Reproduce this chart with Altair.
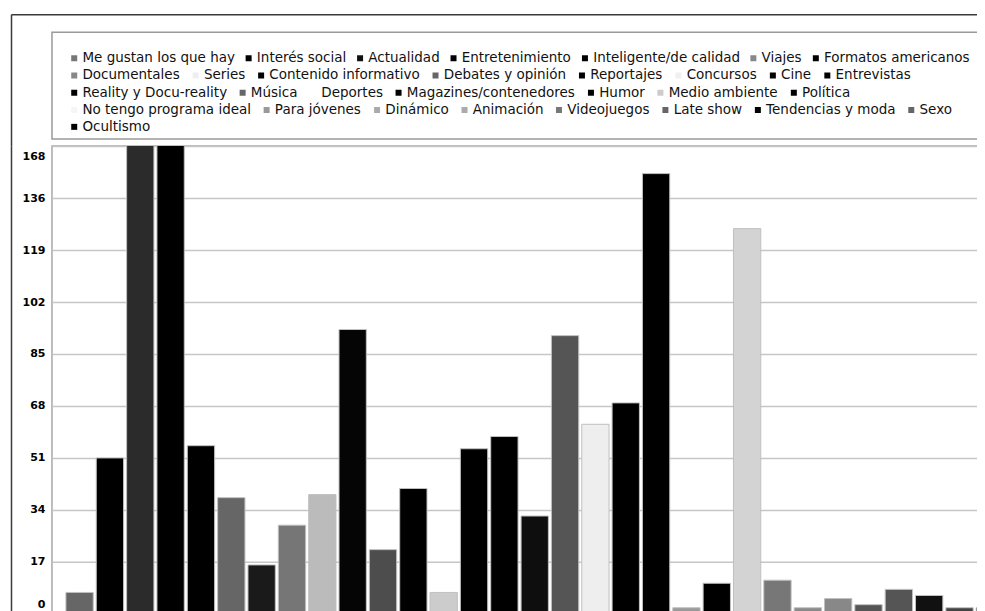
import altair as alt
import pandas as pd

categories = [
    "Me gustan los que hay", "Interés social", "Actualidad", "Entretenimiento",
    "Inteligente/de calidad", "Viajes", "Formatos americanos",
    "Documentales", "Series", "Contenido informativo", "Debates y opinión",
    "Reportajes", "Concursos", "Cine", "Entrevistas",
    "Reality y Docu-reality", "Música", "Deportes", "Magazines/contenedores",
    "Humor", "Medio ambiente", "Política",
    "No tengo programa ideal", "Para jóvenes", "Dinámico", "Animación",
    "Videojuegos", "Late show", "Tendencias y moda", "Sexo",
    "Ocultismo",
]
values = [7, 51, 168, 168, 55, 38, 16, 29, 39, 93, 21, 41, 7, 54, 58,
          32, 91, 62, 69, 144, 2, 10, 126, 11, 2, 5, 3, 8, 6, 2, 2]
bar_colors = [
    "#666666", "#000000", "#2b2b2b", "#000000", "#000000", "#666666", "#1a1a1a",
    "#767676", "#bbbbbb", "#050505", "#4d4d4d", "#000000", "#cccccc", "#000000", "#000000",
    "#0e0e0e", "#555555", "#eeeeee", "#000000", "#000000", "#999999", "#000000",
    "#d3d3d3", "#777777", "#8a8a8a", "#888888", "#555555", "#555555", "#111111", "#444444",
    "#000000",
]
legend_colors = [
    "#777777", "#000000", "#111111", "#000000", "#000000", "#888888", "#000000",
    "#888888", "#eeeeee", "#000000", "#666666", "#000000", "#f0f0f0", "#000000", "#000000",
    "#000000", "#666666", "#ffffff", "#000000", "#000000", "#cccccc", "#000000",
    "#f5f5f5", "#999999", "#aaaaaa", "#aaaaaa", "#777777", "#666666", "#000000", "#666666",
    "#000000",
]
legend_rows = [7, 8, 7, 8, 1]
y_ticks = [0, 17, 34, 51, 68, 85, 102, 119, 136, 153]
y_top_label = "168"

FONT = "DejaVu Sans"
W = 966          # plot width (right part is cut by the picture edge)
LEG_H = 107      # legend box height
GAP = 7          # gap between legend box and plot
PLOT_H = 468
FRAME_L = 41     # distance from outer frame to the plot's left edge
FRAME_T = 18     # distance from outer frame to the legend box top
FRAME_COLOR = "#3a3a3a"

frame_axis = dict(labels=False, ticks=False, grid=False, domain=True, title=None,
                  domainColor=FRAME_COLOR, domainWidth=1.5)

# ---- legend panel (boxed) ----
layers = []
start = 0
for i, n in enumerate(legend_rows):
    cats = categories[start:start + n]
    cols = legend_colors[start:start + n]
    df = pd.DataFrame({"cat": cats})
    enc = dict(
        color=alt.Color(
            "cat:N",
            sort=cats,
            scale=alt.Scale(domain=cats, range=cols),
            legend=alt.Legend(
                orient="none", legendX=15.5, legendY=19 + 17.25 * i,
                direction="horizontal", title=None,
                symbolType="square", symbolSize=36, symbolOpacity=1,
                symbolStrokeWidth=0,
                labelFont=FONT, labelFontSize=13.5, labelColor="#111111",
                labelOffset=1.5, columnPadding=6.5 if i == 0 else 8.5,
                labelLimit=400, padding=0,
            ),
        )
    )
    if i == 0:
        # outer frame: top line and upper part of the left line
        enc["x"] = alt.X(datum=0.5, scale=alt.Scale(domain=[0, 1], range=[0, W + FRAME_L]),
                         axis=alt.Axis(orient="top", offset=FRAME_T, position=-FRAME_L,
                                       **frame_axis))
        enc["y"] = alt.Y(datum=0.5, scale=alt.Scale(domain=[0, 1], range=[LEG_H + GAP + FRAME_T, 0]),
                         axis=alt.Axis(orient="left", offset=FRAME_L, position=-FRAME_T,
                                       **frame_axis))
    layer = alt.Chart(df).mark_square(opacity=0, size=0).encode(**enc)
    layers.append(layer)
    start += n

legend_panel = alt.layer(*layers).resolve_scale(color="independent").properties(
    width=W, height=LEG_H,
    view=alt.ViewBackground(stroke="#9a9a9a", strokeWidth=1.5, fill="white"),
)

# ---- bar panel ----
bars_df = pd.DataFrame({"cat": categories, "value": values, "color": bar_colors})
bars = alt.Chart(bars_df).mark_bar(clip=True, stroke="#c0c0c0", strokeWidth=1).encode(
    x=alt.X("cat:N", sort=categories, axis=None,
            scale=alt.Scale(paddingInner=0.1, paddingOuter=0.46)),
    y=alt.Y(
        "value:Q",
        scale=alt.Scale(domain=[0, 153], nice=False),
        axis=alt.Axis(
            values=y_ticks, title=None, ticks=False, domain=False,
            labelPadding=7, labelFont=FONT, labelFontWeight="bold",
            labelFontSize=11, labelColor="#000000",
            gridColor="#c6c6c6", gridWidth=1.5,
            labelFlush=True, labelFlushOffset=-4,
            labelExpr=f"datum.value >= 153 ? '{y_top_label}' : datum.label",
        ),
    ),
    color=alt.Color("color:N", scale=None),
)

# lower part of the outer frame's left line
frame_left = alt.Chart(pd.DataFrame({"k": [0]})).mark_point(opacity=0, size=0).encode(
    y=alt.Y(datum=0.5, scale=alt.Scale(domain=[0, 1]),
            axis=alt.Axis(orient="left", offset=FRAME_L, **frame_axis)),
)

plot_panel = alt.layer(bars, frame_left).resolve_scale(y="independent").properties(
    width=W, height=PLOT_H,
    view=alt.ViewBackground(stroke="#a8a8a8", strokeWidth=1.5),
)

chart = alt.vconcat(legend_panel, plot_panel, spacing=GAP, bounds="flush").resolve_scale(
    color="independent"
).properties(
    padding={"left": 2, "top": 5, "right": -41.5, "bottom": 5},
    background="white",
)

chart.save("out.html", embed_options={"renderer": "svg", "actions": False})
